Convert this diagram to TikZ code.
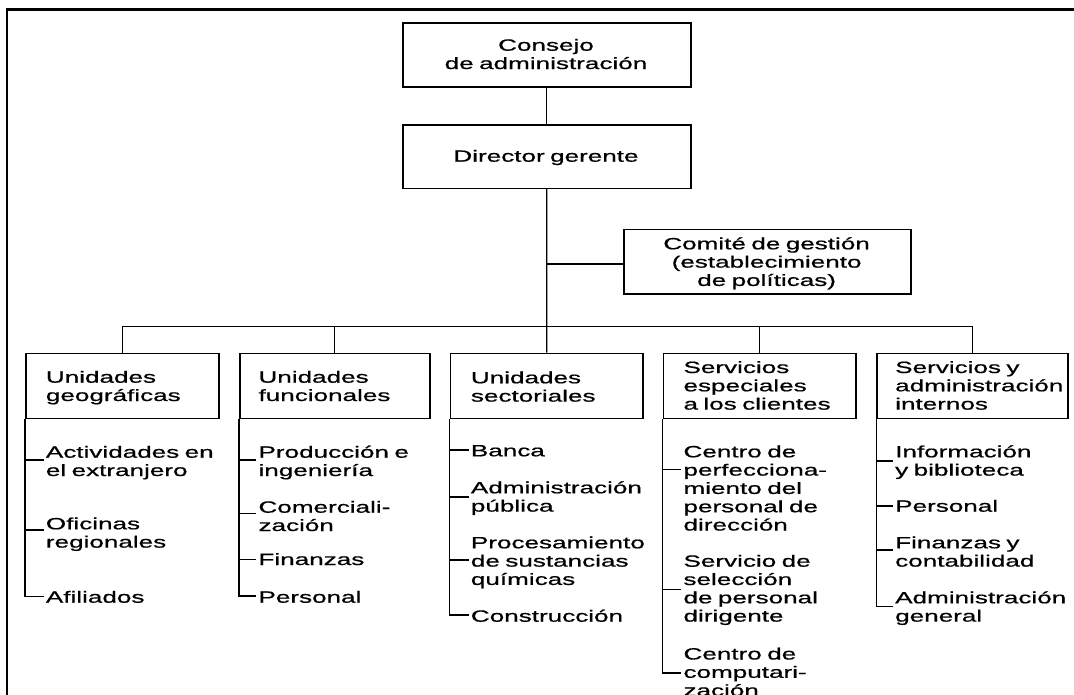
\documentclass[tikz,border=0pt]{standalone}
\usepackage{fontspec}
\newfontfamily\orgfont{Liberation Sans}[FakeStretch=1.6,FakeBold=0.7]
\usetikzlibrary{calc}
\tikzset{
  boxnode/.style={draw, line width=1.5pt, rectangle, inner sep=0pt, anchor=north west},
  conn/.style={line width=1.25pt},
  frameline/.style={line width=2.4pt},
  txt/.style={font=\orgfont\fontsize{16.3}{18.3}\selectfont, inner xsep=2pt, inner ysep=0pt, text width=180pt, align=left, anchor=base west},
  ctxt/.style={font=\orgfont\fontsize{16.3}{18.3}\selectfont, inner sep=0pt, text width=#1, align=center, anchor=base},
}
\begin{document}
\begin{tikzpicture}[x=1pt,y=-1pt]
\useasboundingbox (0,0) rectangle (1074,694);
\clip (0,0) rectangle (1074,694);
\fill[white] (0,0) rectangle (1074,694);
\draw[frameline] (7,700) -- (7,9.3) -- (1080,9.3);

% boxes
\node[boxnode, minimum width=288pt, minimum height=63.7pt] (cons) at (402,22.3) {};
\node[boxnode, minimum width=288pt, minimum height=63.7pt] (dir) at (402,124) {};
\node[boxnode, minimum width=286.7pt, minimum height=64.6pt] (com) at (623.3,228.7) {};
\node[boxnode, minimum width=193.3pt, minimum height=65pt] (b1) at (25,352.5) {};
\node[boxnode, minimum width=190pt, minimum height=65pt] (b2) at (239,352.5) {};
\node[boxnode, minimum width=192.8pt, minimum height=65pt] (b3) at (449.5,352.5) {};
\node[boxnode, minimum width=192.5pt, minimum height=65pt] (b4) at (662.5,352.5) {};
\node[boxnode, minimum width=191pt, minimum height=65pt] (b5) at (876.3,352.5) {};

% box texts
\node[ctxt=288pt] (tcons) at (546,50.7) {Consejo\\de administración};
\node[ctxt=288pt] (tdir) at (546,161.7) {Director gerente};
\node[ctxt=286.7pt] (tcom) at (766.6,249.3) {Comité de gestión\\(establecimiento\\de políticas)};
\node[txt] (h1) at (43.7,382.7) {Unidades\\geográficas};
\node[txt] (h2) at (256.3,382.7) {Unidades\\funcionales};
\node[txt] (h3) at (468.7,383.3) {Unidades\\sectoriales};
\node[txt] (h4) at (681.3,373) {Servicios\\especiales\\a los clientes};
\node[txt] (h5) at (893,373) {Servicios y\\administración\\internos};

% upper connectors
\draw[conn] (cons.south) -- (dir.north);
\draw[conn] (dir.south) -- (b3.north);
\coordinate (br) at (546,264);
\draw[conn] (br) -- (br -| com.west);
\coordinate (bus) at (546,326.7);
\draw[conn] (b1.north) -- (b1.north |- bus) -- (b5.north |- bus) -- (b5.north);
\draw[conn] (b2.north) -- (b2.north |- bus);
\draw[conn] (b4.north) -- (b4.north |- bus);

% column 1
\coordinate (l1a) at (25,460);
\coordinate (l1b) at (25,530);
\coordinate (l1c) at (25,596.7);
\node[txt] (i1a) at (43.7,457.7) {Actividades en\\el extranjero};
\node[txt] (i1b) at (43.7,529.3) {Oficinas\\regionales};
\node[txt] (i1c) at (43.7,602.7) {Afiliados};
\draw[conn] (b1.south west) -- (l1c) -- (l1c -| i1c.west);
\draw[conn] (l1a) -- (l1a -| i1a.west);
\draw[conn] (l1b) -- (l1b -| i1b.west);

% column 2
\coordinate (l2a) at (239,460);
\coordinate (l2b) at (239,513.3);
\coordinate (l2c) at (239,559.3);
\coordinate (l2d) at (239,596);
\node[txt] (i2a) at (256.3,457.7) {Producción e\\ingeniería};
\node[txt] (i2b) at (256.3,512.7) {Comerciali-\\zación};
\node[txt] (i2c) at (256.3,565) {Finanzas};
\node[txt] (i2d) at (256.3,602.7) {Personal};
\draw[conn] (b2.south west) -- (l2d) -- (l2d -| i2d.west);
\draw[conn] (l2a) -- (l2a -| i2a.west);
\draw[conn] (l2b) -- (l2b -| i2b.west);
\draw[conn] (l2c) -- (l2c -| i2c.west);

% column 3
\coordinate (l3a) at (449.5,450);
\coordinate (l3b) at (449.5,497);
\coordinate (l3c) at (449.5,560);
\coordinate (l3d) at (449.5,615);
\node[txt] (i3a) at (468.7,456.3) {Banca};
\node[txt] (i3b) at (468.7,493.3) {Administración\\pública};
\node[txt] (i3c) at (468.7,548.3) {Procesamiento\\de sustancias\\químicas};
\node[txt] (i3d) at (468.7,621.7) {Construcción};
\draw[conn] (b3.south west) -- (l3d) -- (l3d -| i3d.west);
\draw[conn] (l3a) -- (l3a -| i3a.west);
\draw[conn] (l3b) -- (l3b -| i3b.west);
\draw[conn] (l3c) -- (l3c -| i3c.west);

% column 4
\coordinate (l4a) at (662.5,469.5);
\coordinate (l4b) at (662.5,589.3);
\coordinate (l4c) at (662.5,673);
\node[txt] (i4a) at (681.3,457.3) {Centro de\\perfecciona-\\miento del\\personal de\\dirección};
\node[txt] (i4b) at (681.3,566.7) {Servicio de\\selección\\de personal\\dirigente};
\node[txt] (i4c) at (681.3,659.5) {Centro de\\computari-\\zación};
\draw[conn] (b4.south west) -- (l4c) -- (l4c -| i4c.west);
\draw[conn] (l4a) -- (l4a -| i4a.west);
\draw[conn] (l4b) -- (l4b -| i4b.west);

% column 5
\coordinate (l5a) at (876.3,461);
\coordinate (l5b) at (876.3,506);
\coordinate (l5c) at (876.3,550);
\coordinate (l5d) at (876.3,606.5);
\node[txt] (i5a) at (893,457.3) {Información\\y biblioteca};
\node[txt] (i5b) at (893,511.7) {Personal};
\node[txt] (i5c) at (893,548.3) {Finanzas y\\contabilidad};
\node[txt] (i5d) at (893,603.3) {Administración\\general};
\draw[conn] (b5.south west) -- (l5d) -- (l5d -| i5d.west);
\draw[conn] (l5a) -- (l5a -| i5a.west);
\draw[conn] (l5b) -- (l5b -| i5b.west);
\draw[conn] (l5c) -- (l5c -| i5c.west);
\end{tikzpicture}
\end{document}
